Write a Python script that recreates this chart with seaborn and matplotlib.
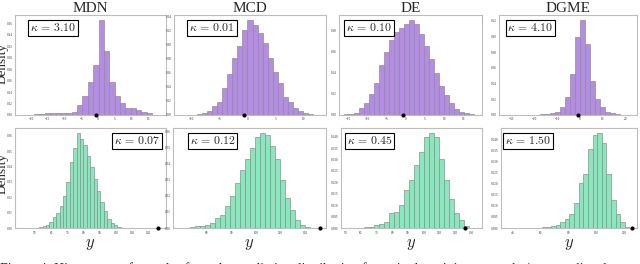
import numpy as np
import pandas as pd
import matplotlib
matplotlib.use("Agg")
import matplotlib.pyplot as plt
import seaborn as sns

# DATA

models = ["MDN", "MCD", "DE", "DGME"]
kappa_top = [3.10, 0.01, 0.10, 4.10]
kappa_bottom = [0.07, 0.12, 0.45, 1.50]
y_true_top = -0.7
y_true_bottom = 126

# top row: first bin edge, bin width, bar heights (density)
top_starts = [-19.0, -9.0, -16.0, -30.8]
top_widths = [1.6, 0.9, 1.3, 2.2]
mdn_top = [0.001, 0.002, 0.003, 0.004, 0.004, 0.004, 0.004, 0.006, 0.018, 0.033, 0.057, 0.087,
           0.166, 0.111, 0.057, 0.033, 0.021, 0.013, 0.012, 0.009, 0.006, 0.003]
mcd_top = [0.001, 0.003, 0.006, 0.013, 0.018, 0.038, 0.058, 0.081, 0.098, 0.122,
           0.136, 0.129, 0.117, 0.103, 0.082, 0.062, 0.045, 0.026, 0.018, 0.010, 0.005, 0.003, 0.001]
de_top = [0.0005, 0.001, 0.002, 0.0067, 0.011, 0.020, 0.030, 0.047, 0.060, 0.071, 0.078, 0.082, 0.086,
          0.090, 0.086, 0.077, 0.065, 0.053, 0.040, 0.027, 0.019, 0.011, 0.006, 0.003, 0.002, 0.0005]
dgme_top = [0.0002, 0.0002, 0.0003, 0.0003, 0.0005, 0.0005, 0.0007, 0.001, 0.002, 0.004, 0.010, 0.023, 0.052, 0.099,
            0.121, 0.090, 0.043, 0.020, 0.010, 0.004, 0.002, 0.001, 0.0005, 0.0003]

# bottom row
bottom_starts = [52.6, 73.3, 52.1, 51.3]
bottom_widths = [2.1, 2.03, 3.2, 3.3]
mdn_bottom = [0.0005, 0.001, 0.002, 0.004, 0.007, 0.010, 0.014, 0.021, 0.030, 0.043, 0.052,
              0.062, 0.058, 0.054, 0.047, 0.040, 0.032, 0.024, 0.017, 0.011, 0.006, 0.003, 0.002, 0.0007]
mcd_bottom = [0.0005, 0.001, 0.0015, 0.002, 0.003, 0.006, 0.008, 0.014, 0.020, 0.028, 0.036, 0.043, 0.050, 0.057,
              0.0595, 0.058, 0.051, 0.043, 0.030, 0.019, 0.011, 0.005, 0.002, 0.0005]
de_bottom = [0.0002, 0.0001, 0.0002, 0.0006, 0.0004, 0.0015, 0.0018, 0.0028, 0.0065, 0.0072, 0.010, 0.0165,
             0.021, 0.0277, 0.0333, 0.040, 0.0417, 0.0398, 0.030, 0.021, 0.0125, 0.0065, 0.0035, 0.001]
dgme_bottom = [0.0001, 0.0001, 0.0002, 0.0003, 0.0005, 0.001, 0.0013, 0.0025, 0.004, 0.0063, 0.0115, 0.0205,
               0.0245, 0.036, 0.042, 0.0432, 0.0385, 0.0245, 0.0125, 0.0065, 0.0025, 0.0005]

top_heights = [mdn_top, mcd_top, de_top, dgme_top]
bottom_heights = [mdn_bottom, mcd_bottom, de_bottom, dgme_bottom]

top_xlims = [(-24.8, 20.4), (-13.2, 14.1), (-17.4, 19.9), (-35.6, 25.0)]
bottom_xlims = [(37.7, 130.9), (66.3, 128.5), (47.4, 137.0), (32.0, 129.3)]
top_xticks = [np.arange(-20, 16, 5), np.arange(-10, 11, 5), np.arange(-15, 16, 5), np.arange(-30, 21, 10)]
bottom_xticks = [np.arange(50, 121, 10), np.arange(80, 121, 10), np.arange(50, 131, 10), np.arange(40, 121, 20)]
top_yticks = [np.arange(0, 0.161, 0.02), np.arange(0, 0.141, 0.02), np.arange(0, 0.081, 0.02), np.arange(0, 0.121, 0.02)]
bottom_yticks = [np.arange(0, 0.061, 0.01), np.arange(0, 0.061, 0.01), np.arange(0, 0.0401, 0.005), np.arange(0, 0.0401, 0.005)]

# STYLE

sns.set_style("white")
plt.rcParams["font.family"] = ["Liberation Serif", "DejaVu Serif"]
plt.rcParams["mathtext.fontset"] = "cm"

purple = "#b48ce6"
green = "#88e8bd"
edge = "#8f8f8f"

W, H = 640, 264
fig = plt.figure(figsize=(6.4, 2.64), dpi=100)

# panel frames in pixels (left, top, right, bottom)
top_boxes = [(15, 15, 166, 115), (174, 15, 326, 115), (339, 15, 482, 115), (499, 15, 637, 115)]
bottom_boxes = [(15, 128, 166, 228), (173, 128, 326, 228), (341, 128, 482, 228), (501, 128, 637, 228)]
# kappa box anchor in axes fraction (x, ha)
top_kpos = [(0.10, "left"), (0.10, "left"), (0.05, "left"), (0.06, "left")]
bottom_kpos = [(0.96, "right"), (0.11, "left"), (0.04, "left"), (0.03, "left")]


def make_axes(box):
    l, t, r, b = box
    return fig.add_axes([l / W, 1 - b / H, (r - l) / W, (b - t) / H])


def draw_panel(ax, start, width, heights, color, xlim, xticks, yticks, true_y, kappa, kpos):
    heights = np.array(heights)
    edges = start + width * np.arange(len(heights) + 1)
    centers = (edges[:-1] + edges[1:]) / 2
    df = pd.DataFrame({"y": centers, "density": heights})
    sns.histplot(data=df, x="y", weights="density", bins=list(edges), stat="count", ax=ax,
                 color=color, alpha=1, edgecolor=edge, linewidth=0.5)
    sns.scatterplot(x=[true_y], y=[0], ax=ax, color="black", s=9, zorder=5, clip_on=False, linewidth=0)
    ax.set_xlim(*xlim)
    ax.set_ylim(0, heights.max() * 1.05)
    ax.set_xticks(xticks)
    ax.set_yticks(yticks)
    ax.set_xticklabels([f"{v:g}".replace("-", "\u2212") for v in xticks])
    if yticks[1] < 0.01 - 1e-9:
        ax.set_yticklabels([f"{v:.3f}" for v in yticks])
    else:
        ax.set_yticklabels([f"{v:.2f}" for v in yticks])
    ax.tick_params(labelsize=2.4, length=1.0, width=0.4, pad=0.8, colors="#333333")
    ax.set_ylabel("")
    ax.set_xlabel("")
    for s in ax.spines.values():
        s.set_color("#bdbdbd")
        s.set_linewidth(0.8)
    tx, ha = kpos
    ax.text(tx, 0.93, rf"$\kappa\,=\,{kappa:.2f}$", transform=ax.transAxes, ha=ha, va="top",
            fontsize=8.5, bbox=dict(boxstyle="square,pad=0.15", facecolor="white", edgecolor="black", linewidth=0.8))


for i, name in enumerate(models):
    ax = make_axes(top_boxes[i])
    draw_panel(ax, top_starts[i], top_widths[i], top_heights[i], purple, top_xlims[i],
               top_xticks[i], top_yticks[i], y_true_top, kappa_top[i], top_kpos[i])
    ax.set_title(name, fontsize=11, pad=2)

    ax = make_axes(bottom_boxes[i])
    draw_panel(ax, bottom_starts[i], bottom_widths[i], bottom_heights[i], green, bottom_xlims[i],
               bottom_xticks[i], bottom_yticks[i], y_true_bottom, kappa_bottom[i], bottom_kpos[i])
    ax.set_xlabel(r"$y$", fontsize=12, labelpad=1)

fig.text(3 / W, 1 - 63 / H, "Density", rotation=90, ha="center", va="center", fontsize=9.5)
fig.text(3 / W, 1 - 174 / H, "Density", rotation=90, ha="center", va="center", fontsize=9.5)

fig.text(0.0, 1 - 262 / H,
         "Figure 4: Histograms of samples from the predictive distribution for a single training example (top: predicted",
         ha="left", va="top", fontsize=10)

plt.savefig("out.png", dpi=100)
